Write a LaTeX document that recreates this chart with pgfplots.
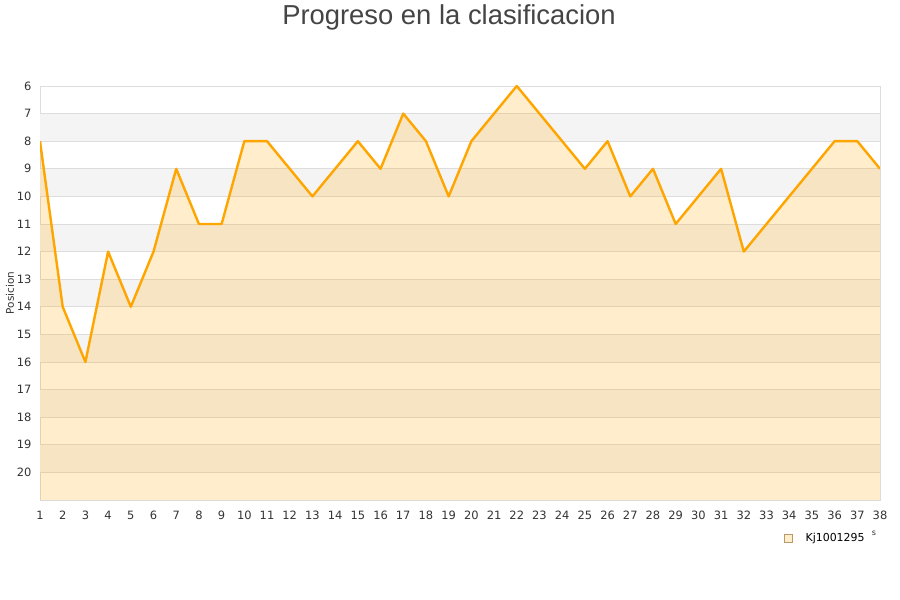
\documentclass[border=0pt]{standalone}
\usepackage{pgfplots}
\pgfplotsset{compat=1.18}
\usepackage{fontspec}
\setmainfont{DejaVu Sans}
\newfontfamily\titlefont{Liberation Sans}
\definecolor{gridgray}{HTML}{DDDDDD}
\definecolor{bandgray}{HTML}{F4F4F4}
\definecolor{lineorange}{HTML}{FFA500}
\definecolor{titlegray}{HTML}{444444}
\definecolor{ticktext}{HTML}{333333}
\definecolor{legborder}{HTML}{B89A6A}
\definecolor{legfill}{HTML}{FFEDCC}

\pgfplotstableread{
x y
1 8
2 14
3 16
4 12
5 14
6 12
7 9
8 11
9 11
10 8
11 8
12 9
13 10
14 9
15 8
16 9
17 7
18 8
19 10
20 8
21 7
22 6
23 7
24 8
25 9
26 8
27 10
28 9
29 11
30 10
31 9
32 12
33 11
34 10
35 9
36 8
37 8
38 9
}\posdata

\begin{document}
\begin{tikzpicture}[x=1bp,y=1bp]
\path (0,0) rectangle (900,600);
\node[font=\titlefont\fontsize{27.5}{32}\selectfont, text=titlegray] at (449,583) {Progreso en la clasificacion};
\begin{axis}[
    at={(40bp,100bp)}, anchor=south west,
    scale only axis,
    width=840bp, height=414bp,
    xmin=1, xmax=38,
    ymin=6, ymax=21,
    y dir=reverse,
    xtick={1,...,38},
    ytick={6,...,20},
    ymajorgrids,
    grid style={gridgray, line width=0.8bp},
    axis line style={gridgray, line width=0.8bp},
    major tick length=0pt,
    tick label style={font=\fontsize{11.5}{13}\selectfont, text=ticktext},
    /pgf/number format/assume math mode=true,
    yticklabel style={xshift=-5bp},
    xticklabel style={yshift=-7bp, text height=8.5bp, text depth=0bp},
    ylabel={Posicion},
    every axis y label/.style={at={(axis description cs:-0.0357,0.5)}, rotate=90, anchor=center,
        font=\fontsize{10.5}{12}\selectfont, text=ticktext},
    legend style={at={(axis description cs:0.8857,-0.092)}, anchor=west, draw=none, fill=none,
        font=\fontsize{11}{13}\selectfont, inner sep=0pt, nodes={inner xsep=3bp}},
    legend image code/.code={\draw[#1] (0bp,-4bp) rectangle (8bp,4bp); \path (18bp,0bp);},
]
\pgfplotsinvokeforeach{7,9,...,19}{
  \fill[bandgray] (axis cs:1,#1) rectangle (axis cs:38,#1+1);
}
\pgfplotsinvokeforeach{7,...,20}{
  \draw[gridgray, line width=0.8bp] (axis cs:1,#1) -- (axis cs:38,#1);
}
\addplot[draw=none, fill=lineorange, fill opacity=0.2, forget plot]
  table {\posdata} -- (axis cs:38,21) -- (axis cs:1,21) -- cycle;
\addplot[lineorange, line width=2.4bp, line join=round, forget plot] table {\posdata};
\addlegendimage{draw=legborder, fill=legfill}
\addlegendentry{Kj1001295}
\end{axis}
\node[font=\fontsize{8}{9}\selectfont, text=ticktext] at (874,67) {s};
\end{tikzpicture}
\end{document}
